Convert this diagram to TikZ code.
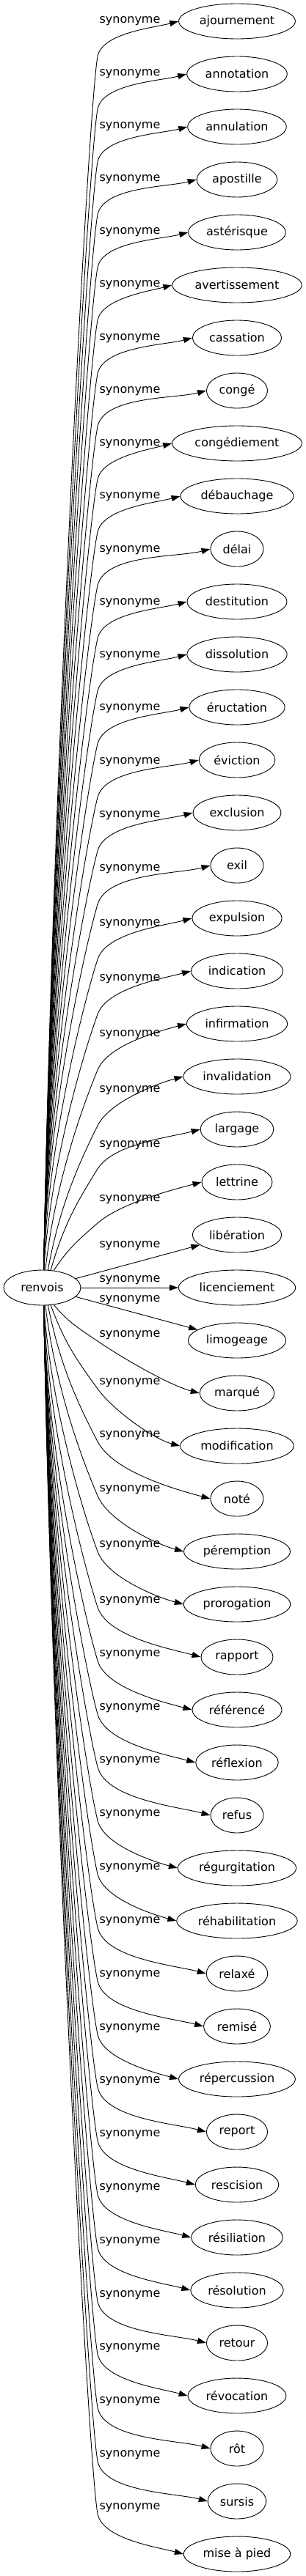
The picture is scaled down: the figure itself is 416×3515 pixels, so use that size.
\documentclass[tikz,border=0pt]{standalone}
\usepackage{fontspec}
\setmainfont{DejaVu Sans}
\usetikzlibrary{arrows.meta, shapes.geometric}
\tikzset{
	>={Triangle[length=12pt, width=8pt]},
	word/.style = {ellipse, draw, minimum width=72pt, minimum height=48pt, inner xsep=5pt, inner ysep=3pt, font=\fontsize{16}{19}\selectfont},
	rel/.style = {inner sep=0pt, font=\fontsize{16}{19}\selectfont}
}

\begin{document}
\begin{tikzpicture}[x=1pt, y=1pt, line width=0.9pt]
	\useasboundingbox (0,0) rectangle (416,-3515);
	\node[word, minimum width=105pt] (renvois) at (57.5,-1757) {renvois};

	% one word, its label and its edge per step
	\foreach \w/\ly [count=\i from 0] in {ajournement/29, annotation/101, annulation/173, apostille/245, astérisque/317, avertissement/389, cassation/462, congé/534, congédiement/606, débauchage/678, délai/751, destitution/823, dissolution/895, éructation/967, éviction/1040, exclusion/1113, exil/1186, expulsion/1261, indication/1336, infirmation/1412, invalidation/1488, largage/1563, lettrine/1637, libération/1700, licenciement/1747, limogeage/1774, marqué/1822, modification/1887, noté/1959, péremption/2033, prorogation/2109, rapport/2185, référencé/2258, réflexion/2331, refus/2403, régurgitation/2476, réhabilitation/2549, relaxé/2622, remisé/2695, répercussion/2768, report/2840, rescision/2913, résiliation/2986, résolution/3059, retour/3132, révocation/3204, rôt/3277, sursis/3350, mise à pied/3422}{
		\node[word] (t\i) at (323,{-29-72*\i}) {\w};
		\node[rel] (l\i) at (177,-\ly) {synonyme};
		\pgfmathtruncatemacro\n{abs(\i-24)}
		\pgfmathtruncatemacro\sa{min(85,40+8*\n)}
		\ifnum\n<2
			% straight edges next to renvois
			\draw[->] (renvois) -- (t\i);
		\else\ifnum\i<24
			% edges going up
			\pgfmathsetmacro\ky{\ly+(\i>20 ? 32 : 48)}
			\pgfmathsetmacro\d{1757-24*sin(\sa)-\ky}
			\pgfmathsetmacro\c{atan2(\d, 75.5-30*cos(\sa))}
			\pgfmathsetmacro\oa{min(89,\c+8)}
			\pgfmathsetmacro\h{\c-8}
			\pgfmathsetmacro\ia{\h-180}
			\pgfmathsetmacro\la{0.39*\d/sin(\c)}
			\pgfmathsetmacro\lb{min(70,\la)}
			\coordinate (k\i) at (133,-\ky);
			\draw[->] (renvois.\sa) .. controls +(\oa:\la) and +(\ia:\lb) .. (k\i) to[out=\h, in=195, looseness=0.7] (t\i.west);
		\else
			% edges going down
			\pgfmathsetmacro\ky{\ly+8}
			\pgfmathsetmacro\d{\ky-1757-24*sin(\sa)}
			\pgfmathsetmacro\c{atan2(\d, 75.5-30*cos(\sa))}
			\pgfmathsetmacro\oa{-min(89,\c+8)}
			\pgfmathsetmacro\h{8-\c}
			\pgfmathsetmacro\ia{180+\h}
			\pgfmathsetmacro\la{0.39*\d/sin(\c)}
			\pgfmathsetmacro\lb{min(70,\la)}
			\pgfmathtruncatemacro\sb{-\sa}
			\coordinate (k\i) at (133,-\ky);
			\draw[->] (renvois.\sb) .. controls +(\oa:\la) and +(\ia:\lb) .. (k\i) to[out=\h, in=165, looseness=0.7] (t\i.west);
		\fi\fi
	}
\end{tikzpicture}
\end{document}
